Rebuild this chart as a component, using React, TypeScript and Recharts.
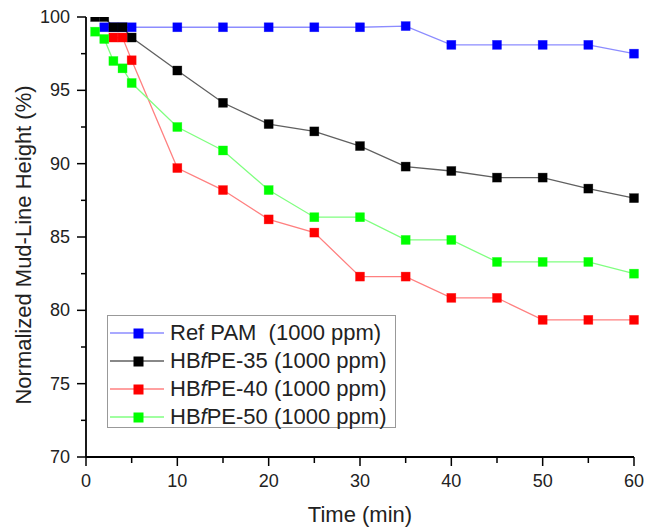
import React from 'react';
import { LineChart, Line, XAxis, YAxis, Legend, Customized } from 'recharts';

const times = [1, 2, 3, 4, 5, 10, 15, 20, 25, 30, 35, 40, 45, 50, 55, 60];
const refPam = [null, 99.3, 99.3, 99.3, 99.3, 99.3, 99.3, 99.3, 99.3, 99.3, 99.38, 98.1, 98.1, 98.1, 98.1, 97.5];
const hbfpe35 = [100, 100, 99.3, 99.3, 98.6, 96.35, 94.15, 92.7, 92.2, 91.2, 89.8, 89.5, 89.05, 89.05, 88.3, 87.65];
const hbfpe40 = [null, null, 98.6, 98.6, 97.05, 89.7, 88.2, 86.2, 85.3, 82.3, 82.3, 80.85, 80.85, 79.35, 79.35, 79.35];
const hbfpe50 = [99.0, 98.5, 97.0, 96.5, 95.5, 92.5, 90.9, 88.2, 86.35, 86.35, 84.8, 84.8, 83.3, 83.3, 83.3, 82.5];

const xTicks = [0, 5, 10, 15, 20, 25, 30, 35, 40, 45, 50, 55, 60];
const yTicks = [70, 72.5, 75, 77.5, 80, 82.5, 85, 87.5, 90, 92.5, 95, 97.5, 100];

const seriesNames = ['Ref PAM', 'HBfPE-35', 'HBfPE-40', 'HBfPE-50'];
const legendSuffixes = ['  (1000 ppm)', ' (1000 ppm)', ' (1000 ppm)', ' (1000 ppm)'];

const data = times.map((t, i) => ({
  t,
  ref: refPam[i],
  h35: hbfpe35[i],
  h40: hbfpe40[i],
  h50: hbfpe50[i],
}));

const series = [
  { key: 'ref', line: '#8c8cff', fill: '#0000ff' },
  { key: 'h35', line: '#606060', fill: '#000000' },
  { key: 'h40', line: '#ff8080', fill: '#ff0000' },
  { key: 'h50', line: '#80ff80', fill: '#00ff00' },
];

const FONT = "'Liberation Sans', Arial, sans-serif";

const makeDot = (fill: string) => (props: any) => {
  const { cx, cy, value, index } = props;
  if (cx == null || cy == null || value == null) return <g key={`d${index}`} />;
  return <rect key={`d${index}`} x={cx - 4.5} y={cy - 4.5} width={9} height={9} fill={fill} stroke={fill} strokeOpacity={0.5} strokeWidth={0.6} />;
};

const YTick = (props: any) => {
  const { x, y, payload } = props;
  const v = payload.value;
  const major = v % 5 === 0;
  return (
    <g>
      <line x1={x - (major ? 9 : 5)} x2={x} y1={y} y2={y} stroke="#000" strokeWidth={1.5} />
      {major && (
        <text x={x - 16} y={y} textAnchor="end" dominantBaseline="central" fontSize={18} fontFamily={FONT} fill="#222">
          {v}
        </text>
      )}
    </g>
  );
};

const XTick = (props: any) => {
  const { x, y, payload } = props;
  const v = payload.value;
  const major = v % 10 === 0;
  return (
    <g>
      <line x1={x} x2={x} y1={y} y2={y + (major ? 9 : 6)} stroke="#000" strokeWidth={1.5} />
      {major && (
        <text x={x} y={y + 24} textAnchor="middle" dominantBaseline="central" fontSize={18} fontFamily={FONT} fill="#222">
          {v}
        </text>
      )}
    </g>
  );
};

const LegendBox = () => (
  <div
    style={{
      width: 289,
      height: 113,
      border: '1.5px solid #999',
      background: '#fff',
      boxSizing: 'border-box',
      paddingTop: 3,
      fontFamily: FONT,
      fontSize: 22,
      color: '#222',
    }}
  >
    {series.map((s, i) => {
      const name = seriesNames[i];
      const fIdx = name.startsWith('HB') ? 2 : -1;
      return (
        <div key={s.key} style={{ height: 28, display: 'flex', alignItems: 'center', whiteSpace: 'pre' }}>
          <svg width={58} height={28} style={{ marginLeft: 2, flex: 'none' }}>
            <line x1={0} x2={54} y1={14} y2={14} stroke={s.line} strokeWidth={1.3} />
            <rect x={23.5} y={9.5} width={10} height={10} fill={s.fill} />
          </svg>
          <span style={{ marginLeft: 2 }}>
            {fIdx >= 0 ? (
              <>
                {name.slice(0, fIdx)}
                <i>f</i>
                {name.slice(fIdx + 1)}
              </>
            ) : (
              name
            )}
            {legendSuffixes[i]}
          </span>
        </div>
      );
    })}
  </div>
);

const AxisTitles = () => (
  <g>
    <text
      x={23}
      y={245}
      transform="rotate(-90 23 245)"
      textAnchor="middle"
      dominantBaseline="central"
      fontSize={22}
      fontFamily={FONT}
      fill="#222"
    >
      Normalized Mud-Line Height (%)
    </text>
    <text x={360} y={514} textAnchor="middle" dominantBaseline="central" fontSize={22} fontFamily={FONT} fill="#222">
      Time (min)
    </text>
  </g>
);

export default function App() {
  return (
    <div style={{ position: 'absolute', left: 0, top: 0, background: '#fff' }}>
      <LineChart width={645} height={531} data={data} margin={{ top: 17, right: 11, bottom: 0, left: 0 }}>
        <XAxis
          dataKey="t"
          type="number"
          domain={[0, 60]}
          ticks={xTicks}
          interval={0}
          height={74}
          tickSize={0}
          tickMargin={0}
          tickLine={false}
          axisLine={{ stroke: '#000', strokeWidth: 1.8 }}
          tick={<XTick />}
        />
        <YAxis
          type="number"
          domain={[70, 100]}
          ticks={yTicks}
          interval={0}
          width={86}
          allowDataOverflow
          tickSize={0}
          tickMargin={0}
          tickLine={false}
          axisLine={{ stroke: '#000', strokeWidth: 1.8 }}
          tick={<YTick />}
        />
        {series.map((s) => (
          <Line
            key={s.key}
            dataKey={s.key}
            type="linear"
            stroke={s.line}
            strokeWidth={1.3}
            dot={makeDot(s.fill)}
            activeDot={false}
            isAnimationActive={false}
          />
        ))}
        <Legend
          layout="vertical"
          verticalAlign="middle"
          align="center"
          content={() => <LegendBox />}
          wrapperStyle={{ position: 'absolute', left: 107, top: 315, width: 289, height: 113 }}
        />
        <Customized component={AxisTitles} />
      </LineChart>
    </div>
  );
}
